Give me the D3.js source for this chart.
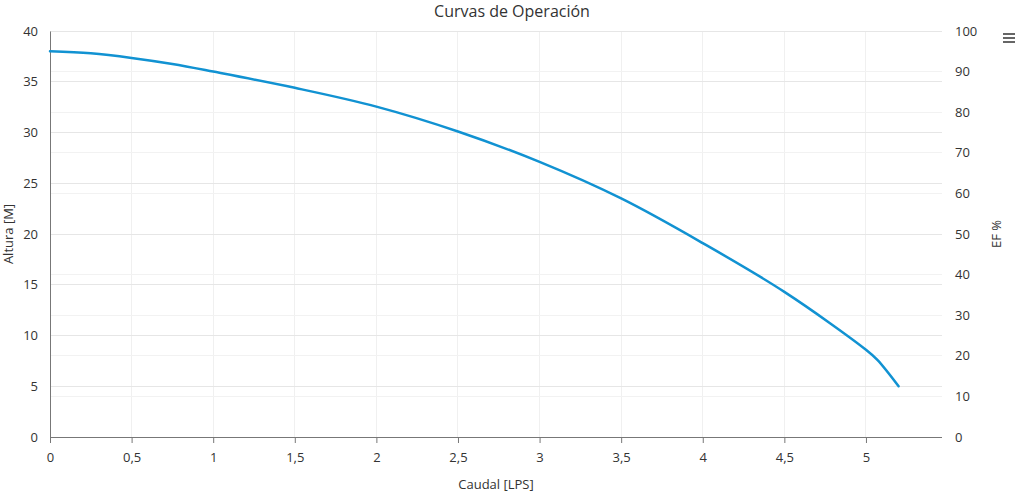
<!DOCTYPE html>
<html><head><meta charset="utf-8">
<script src="https://cdn.jsdelivr.net/npm/d3@7"></script>
<style>
body{margin:0;background:#fff;}
text{font-family:"Open Sans","Noto Sans",sans-serif;fill:#333;}
</style></head><body>
<svg id="c" width="1024" height="494"></svg>
<script>
const caudal = [0, 0.25, 0.5, 0.75, 1, 1.5, 2, 2.5, 3, 3.5, 4, 4.5, 5, 5.07, 5.2];
const altura = [38.0, 37.8, 37.35, 36.75, 36.0, 34.4, 32.55, 30.1, 27.1, 23.5, 19.1, 14.3, 8.6, 7.6, 5.0];
const xTicks = [0, 0.5, 1, 1.5, 2, 2.5, 3, 3.5, 4, 4.5, 5];
const yLeftTicks = [0, 5, 10, 15, 20, 25, 30, 35, 40];
const yRightTicks = [0, 10, 20, 30, 40, 50, 60, 70, 80, 90, 100];
const title = "Curvas de Operación";
const xLabel = "Caudal [LPS]", yLabel = "Altura [M]", y2Label = "EF %";

const svg = d3.select("#c");
const L = 50, R = 942, T = 31, B = 437;
const x = d3.scaleLinear().domain([0, 5.466]).range([L, R]);
const y = d3.scaleLinear().domain([0, 40]).range([B, T]);
const y2 = d3.scaleLinear().domain([0, 100]).range([B, T]);
const fmt = d => String(d).replace(".", ",");

// grids
svg.append("g").selectAll("line").data(xTicks.filter(d=>d>0)).join("line")
  .attr("x1", d=>x(d)).attr("x2", d=>x(d)).attr("y1", T).attr("y2", B)
  .attr("stroke", "#f0f0f0").attr("stroke-width", 1).attr("shape-rendering","crispEdges");
svg.append("g").selectAll("line").data(yRightTicks).join("line")
  .attr("x1", L).attr("x2", R).attr("y1", d=>y2(d)).attr("y2", d=>y2(d))
  .attr("stroke", "#f2f2f2").attr("stroke-width", 1).attr("shape-rendering","crispEdges");
svg.append("g").selectAll("line").data(yLeftTicks).join("line")
  .attr("x1", L).attr("x2", R).attr("y1", d=>y(d)).attr("y2", d=>y(d))
  .attr("stroke", "#e6e6e6").attr("stroke-width", 1).attr("shape-rendering","crispEdges");

// axes
const gx = svg.append("g").attr("transform", `translate(0,${B})`)
  .call(d3.axisBottom(x).tickValues(xTicks).tickFormat(fmt).tickSize(6).tickPadding(10));
gx.select(".domain").attr("stroke", "#777").attr("d", `M${L},0.5H${R}`);
gx.selectAll(".tick line").attr("stroke", "#777");
gx.selectAll("text").attr("font-size", 13).attr("fill", "#333");

const gy = svg.append("g").attr("transform", `translate(${L},0)`)
  .call(d3.axisLeft(y).tickValues(yLeftTicks).tickSize(0).tickPadding(12));
gy.select(".domain").attr("stroke", "#777");
gy.selectAll("text").attr("font-size", 13).attr("fill", "#333");

const gy2 = svg.append("g").attr("transform", `translate(${R},0)`)
  .call(d3.axisRight(y2).tickValues(yRightTicks).tickSize(0).tickPadding(13));
gy2.select(".domain").remove();
gy2.selectAll("text").attr("font-size", 13).attr("fill", "#333");

// line
const pts = caudal.map((q,i)=>[q, altura[i]]);
svg.append("path").datum(pts)
  .attr("fill", "none").attr("stroke", "#1192d2").attr("stroke-width", 2.5)
  .attr("stroke-linejoin","round").attr("stroke-linecap","round")
  .attr("d", d3.line().x(d=>x(d[0])).y(d=>y(d[1])).curve(d3.curveCatmullRom.alpha(0.5)));

// labels
svg.append("text").attr("x", 512).attr("y", 17).attr("text-anchor","middle")
  .attr("font-size", 16).text(title);
svg.append("text").attr("x", (L+R)/2).attr("y", 489).attr("text-anchor","middle")
  .attr("font-size", 13).text(xLabel);
svg.append("text").attr("transform", `translate(13,${(T+B)/2}) rotate(-90)`)
  .attr("text-anchor","middle").attr("font-size", 13).text(yLabel);
svg.append("text").attr("transform", `translate(1001,${(T+B)/2}) rotate(-90)`)
  .attr("text-anchor","middle").attr("font-size", 13).text(y2Label);

// menu icon
svg.append("g").selectAll("line").data([34, 38, 42]).join("line")
  .attr("x1", 1003).attr("x2", 1015).attr("y1", d=>d).attr("y2", d=>d)
  .attr("stroke", "#666").attr("stroke-width", 2);
</script>
</body></html>
